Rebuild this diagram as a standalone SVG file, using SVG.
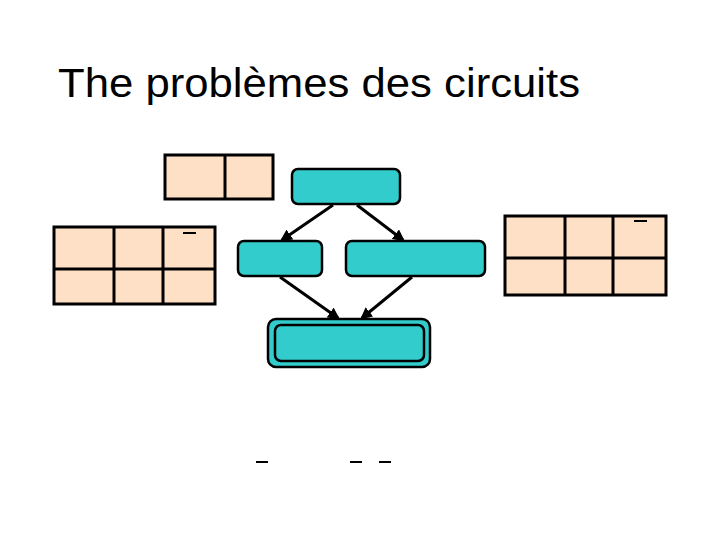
<svg xmlns="http://www.w3.org/2000/svg" width="720" height="540" viewBox="0 0 720 540">
<style>
.t{fill:#fde0c6;stroke:#000;stroke-width:3}
.n{fill:#33cccc;stroke:#000;stroke-width:2.5}
.c{stroke:#000;stroke-width:3;fill:none}
.d{stroke:#000;stroke-width:2}
</style>
<defs><marker id="a" viewBox="0 0 10 10" refX="8" refY="5" markerWidth="4" markerHeight="4" orient="auto"><path d="M0,0L10,5L0,10z"/></marker></defs>
<rect width="720" height="540" fill="#fff"/>
<text x="58" y="97" font-family="Liberation Sans, Arial, sans-serif" font-size="40" textLength="522" lengthAdjust="spacingAndGlyphs">The problèmes des circuits</text>
<g id="table1"><rect class="t" x="165" y="155" width="108" height="44"/><line class="c" x1="225" y1="155" x2="225" y2="199"/></g>
<g id="table2"><rect class="t" x="54" y="227" width="161" height="77"/><line class="c" x1="114" y1="227" x2="114" y2="304"/><line class="c" x1="163" y1="227" x2="163" y2="304"/><line class="c" x1="54" y1="269" x2="215" y2="269"/><line class="d" x1="183" y1="233" x2="196" y2="233"/></g>
<g id="table3"><rect class="t" x="505" y="216" width="161" height="79"/><line class="c" x1="565" y1="216" x2="565" y2="295"/><line class="c" x1="613" y1="216" x2="613" y2="295"/><line class="c" x1="505" y1="258" x2="666" y2="258"/><line class="d" x1="634" y1="221" x2="647" y2="221"/></g>
<g id="top"><rect class="n" x="292" y="169" width="108" height="35" rx="6"/></g>
<g id="midL"><rect class="n" x="238" y="241" width="84" height="35" rx="6"/></g>
<g id="midR"><rect class="n" x="346" y="241" width="139" height="35" rx="6"/></g>
<g id="bottom"><rect class="n" x="268" y="319" width="162" height="48" rx="8"/><rect class="n" x="275" y="325" width="149" height="36" rx="6"/></g>
<g id="connectors">
<line class="c" x1="333" y1="205" x2="282" y2="240" marker-end="url(#a)"/>
<line class="c" x1="357" y1="205" x2="403" y2="240" marker-end="url(#a)"/>
<line class="c" x1="280" y1="277" x2="338" y2="318" marker-end="url(#a)"/>
<line class="c" x1="412" y1="277" x2="362" y2="318" marker-end="url(#a)"/>
</g>
<g id="marks"><line class="d" x1="256" y1="462" x2="268" y2="462"/><line class="d" x1="350" y1="462" x2="362" y2="462"/><line class="d" x1="379" y1="462" x2="391" y2="462"/></g>
</svg>
